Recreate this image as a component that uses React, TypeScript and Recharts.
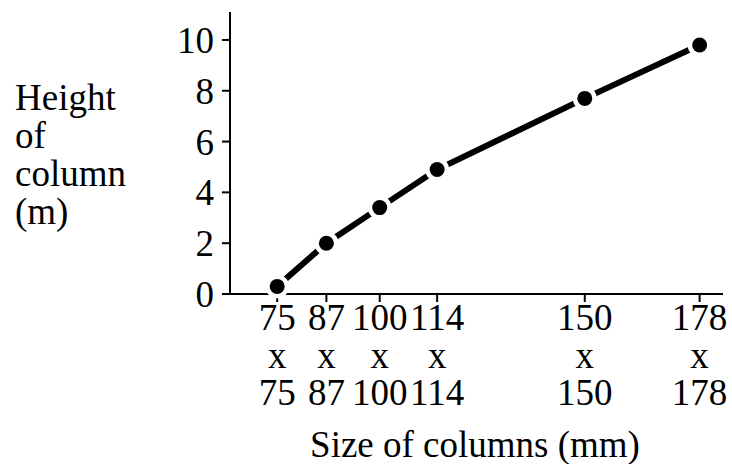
import React from 'react';
import { LineChart, Line, XAxis, YAxis } from 'recharts';

const sizes = [75, 87, 100, 114, 150, 178];
const heights = [0.3, 2.0, 3.4, 4.9, 7.7, 9.8];
const yTicks = [0, 2, 4, 6, 8, 10];
const yLabelLines = ['Height', 'of', 'column', '(m)'];
const xLabelText = 'Size of columns (mm)';

const data = sizes.map((s, i) => ({ size: s, height: heights[i] }));

const FONT = 'Liberation Serif, DejaVu Serif, Times New Roman, serif';
const FS = 37;
const TXT: React.CSSProperties = { fontFamily: FONT, fontSize: FS };

const XTick = (props: any) => {
  const { x, y, payload } = props;
  const v = payload.value;
  return (
    <text x={x} y={y} textAnchor="middle" style={TXT} fill="#000">
      <tspan x={x} dy={26}>{v}</tspan>
      <tspan x={x} dy={38}>x</tspan>
      <tspan x={x} dy={37}>{v}</tspan>
    </text>
  );
};

const YTick = (props: any) => {
  const { x, y, payload } = props;
  return (
    <text x={x} y={y} dy={13} textAnchor="end" style={TXT} fill="#000">
      {payload.value}
    </text>
  );
};

const Dot = (props: any) => {
  const { cx, cy, index } = props;
  if (cx == null || cy == null) return null;
  return (
    <g key={`d${index}`}>
      <circle cx={cx} cy={cy} r={12} fill="#fff" />
      <circle cx={cx} cy={cy} r={7.5} fill="#000" />
    </g>
  );
};

const YLabel = () => (
  <text style={TXT} fill="#000">
    {yLabelLines.map((l, i) => (
      <tspan key={i} x={15} y={110 + i * 38}>{l}</tspan>
    ))}
  </text>
);

const XLabel = () => (
  <text x={475} y={457} textAnchor="middle" style={TXT} fill="#000">
    {xLabelText}
  </text>
);

export default function App() {
  return (
    <div style={{ position: 'absolute', left: 0, top: 0, width: 732, height: 464, background: '#fff' }}>
      <LineChart width={732} height={464} data={data} margin={{ top: 12, right: 9, left: 0, bottom: 0 }}>
        <XAxis
          dataKey="size"
          type="number"
          domain={[63.5, 183.7]}
          ticks={sizes}
          interval={0}
          height={170}
          tickSize={8}
          tickMargin={2}
          stroke="#000"
          strokeWidth={2}
          tick={<XTick />}
          label={{ content: () => <XLabel /> }}
        />
        <YAxis
          type="number"
          domain={[0, 11.1]}
          ticks={yTicks}
          width={230}
          tickSize={8}
          tickMargin={8}
          stroke="#000"
          strokeWidth={2}
          tick={<YTick />}
          label={{ content: () => <YLabel /> }}
        />
        <Line
          dataKey="height"
          stroke="#000"
          strokeWidth={6}
          dot={<Dot />}
          activeDot={false}
          isAnimationActive={false}
        />
      </LineChart>
    </div>
  );
}
